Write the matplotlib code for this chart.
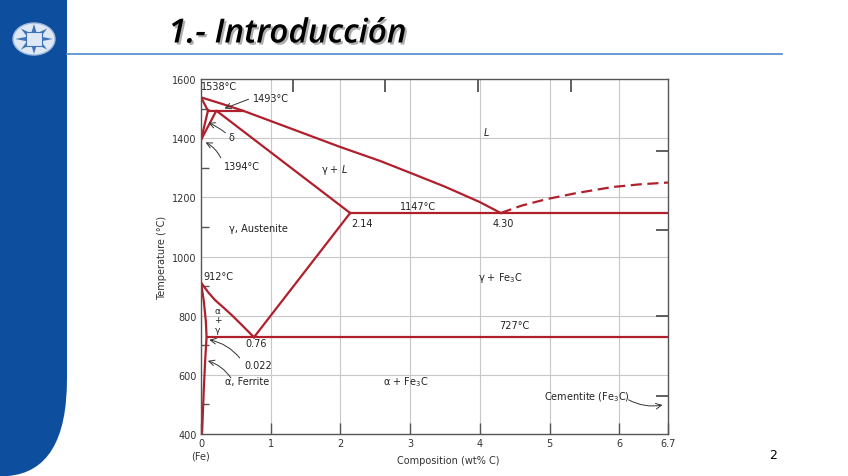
import matplotlib
matplotlib.use("Agg")
import matplotlib.pyplot as plt
import matplotlib.patheffects as pe
from matplotlib.patches import PathPatch, Ellipse, Polygon
from matplotlib.path import Path
import numpy as np

# ---------------- data ----------------
liquidus_x = [0.0, 0.3, 0.6, 1.0, 1.5, 2.0, 2.57, 3.0, 3.5, 4.0, 4.30]
liquidus_t = [1538, 1516, 1493, 1458, 1414, 1370, 1323, 1283, 1236, 1184, 1147]
liq_dash_x = [4.30, 4.6, 4.96, 5.4, 5.91, 6.3, 6.7]
liq_dash_t = [1147, 1172, 1194, 1215, 1235, 1244, 1250]
delta_x = [0.0, 0.1, 0.0]
delta_t = [1538, 1493, 1394]
peritectic_x = [0.1, 0.6]
peritectic_t = [1493, 1493]
gamma_top_x = [0.0, 0.22, 2.14]
gamma_top_t = [1394, 1493, 1147]
eutectic_x = [2.14, 6.7]
eutectic_t = [1147, 1147]
acm_x = [2.14, 0.76]
acm_t = [1147, 727]
a3_x = [0.0, 0.1, 0.2, 0.32, 0.45, 0.6, 0.76]
a3_t = [912, 880, 853, 828, 800, 765, 727]
eutectoid_x = [0.08, 6.7]
eutectoid_t = [727, 727]
alpha_x = [0.0, 0.04, 0.07, 0.08, 0.06, 0.04, 0.015]
alpha_t = [912, 850, 780, 727, 650, 550, 400]

x_ticks = [0, 1, 2, 3, 4, 5, 6, 6.7]
x_ticklabels = ["0", "1", "2", "3", "4", "5", "6", "6.7"]
y_ticks = [400, 600, 800, 1000, 1200, 1400, 1600]
y_minor = [500, 700, 900, 1100, 1300, 1500]
top_ticks = [1.32, 2.64, 3.98, 5.31]
right_ticks = [1357, 1090, 800, 530]

RED = "#b0202c"
W, H = 848, 477

fig = plt.figure(figsize=(W / 100, H / 100), dpi=100)
fig.patch.set_facecolor("white")

# ---------------- slide decoration ----------------
bg = fig.add_axes([0, 0, 1, 1])
bg.set_xlim(0, W)
bg.set_ylim(H, 0)
bg.axis("off")
verts = [(0, 0), (67, 0), (67, 380), (67, 472), (8, 477), (0, 477), (0, 0)]
codes = [Path.MOVETO, Path.LINETO, Path.LINETO, Path.CURVE3, Path.CURVE3, Path.LINETO, Path.CLOSEPOLY]
bg.add_patch(PathPatch(Path(verts, codes), facecolor="#0d4f9e", edgecolor="none"))
bg.add_patch(Ellipse((34, 40), 42, 32, facecolor="#dfe8f5", edgecolor="#9fb8dc", lw=1))
star = []
for k in range(16):
    ang = np.pi / 2 + k * np.pi / 8
    r = 15 if k % 2 == 0 else 6
    star.append((34 + r * np.cos(ang) * 1.25, 40 - r * np.sin(ang)))
bg.add_patch(Polygon(star, closed=True, facecolor="#3f74b8", edgecolor="none"))
bg.add_patch(Polygon([(26, 33), (42, 33), (42, 47), (26, 47)], facecolor="#dfe8f5", edgecolor="#3f74b8", lw=0.8))
bg.plot([67, 782], [55, 55], color="#5b93cf", lw=1.3)
bg.text(168, 35, "1.- Introducción", fontsize=24, style="italic", family="Open Sans",
        weight="semibold", color="black", va="center", ha="left",
        path_effects=[pe.withSimplePatchShadow(offset=(1.5, -1.5), shadow_rgbFace="#9a9a9a", alpha=0.8)])
bg.text(773, 456, "2", fontsize=9, ha="center", va="center", color="black")

# ---------------- main diagram ----------------
ax = fig.add_axes([201 / W, 1 - 435 / H, 467 / W, 355 / H])
ax.set_xlim(0, 6.7)
ax.set_ylim(400, 1600)

lw = 1.6
ax.plot(liquidus_x, liquidus_t, color=RED, lw=lw)
ax.plot(liq_dash_x, liq_dash_t, color=RED, lw=lw, ls=(0, (5, 2.5)))
ax.plot(delta_x, delta_t, color=RED, lw=lw)
ax.plot(peritectic_x, peritectic_t, color=RED, lw=lw)
ax.plot(gamma_top_x, gamma_top_t, color=RED, lw=lw)
ax.plot(eutectic_x, eutectic_t, color=RED, lw=lw)
ax.plot(acm_x, acm_t, color=RED, lw=lw)
ax.plot(a3_x, a3_t, color=RED, lw=lw)
ax.plot(eutectoid_x, eutectoid_t, color=RED, lw=lw)
ax.plot(alpha_x, alpha_t, color=RED, lw=lw)

# grid
for gx in [1, 2, 3, 4, 5, 6]:
    ax.axvline(gx, color="#c8c8c8", lw=0.8, zorder=0)
for gy in [600, 800, 1000, 1200, 1400]:
    ax.axhline(gy, color="#c8c8c8", lw=0.8, zorder=0)

for s in ax.spines.values():
    s.set_color("#555555")
    s.set_linewidth(1.0)

tc = "#333333"
ax.set_xticks(x_ticks)
ax.set_xticklabels(x_ticklabels)
ax.set_yticks(y_ticks)
ax.set_yticks(y_minor, minor=True)
ax.tick_params(axis="x", direction="in", length=8, width=1, color="#555555", labelsize=7, labelcolor=tc, pad=3)
ax.tick_params(axis="y", which="major", direction="in", length=0, labelsize=7, labelcolor=tc, pad=3)
ax.tick_params(axis="y", which="minor", direction="in", length=6, width=1, color="#555555")

top = ax.secondary_xaxis("top")
top.set_xticks(top_ticks)
top.tick_params(direction="in", length=9, width=1.2, color="#444444", labeltop=False)
top.spines["top"].set_visible(False)
right = ax.secondary_yaxis("right")
right.set_yticks(right_ticks)
right.tick_params(direction="in", length=9, width=1.2, color="#444444", labelright=False)
right.spines["right"].set_visible(False)

ax.set_xlabel("Composition (wt% C)", fontsize=7, color=tc, labelpad=1)
ax.xaxis.set_label_coords(0.53, -0.06)
ax.set_ylabel("Temperature (°C)", fontsize=7, color=tc, labelpad=4)
ax.text(0, -0.06, "(Fe)", transform=ax.transAxes, fontsize=7, color=tc, ha="center", va="center")

fs = 7
tk = dict(fontsize=fs, color="#222222")
ax.text(0.005, 1575, "1538°C", ha="left", va="center", **tk)
ax.text(0.75, 1535, "1493°C", ha="left", va="center", **tk)
ax.annotate("", xy=(0.3, 1497), xytext=(0.72, 1535),
            arrowprops=dict(arrowstyle="->", color="#333333", lw=0.7))
ax.text(0.43, 1405, "δ", ha="center", va="center", **tk)
ax.annotate("", xy=(0.07, 1455), xytext=(0.38, 1412),
            arrowprops=dict(arrowstyle="->", color="#333333", lw=0.7, connectionstyle="arc3,rad=0.1"))
ax.text(0.33, 1305, "1394°C", ha="left", va="center", **tk)
ax.annotate("", xy=(0.03, 1390), xytext=(0.3, 1325),
            arrowprops=dict(arrowstyle="->", color="#333333", lw=0.7, connectionstyle="arc3,rad=0.2"))
ax.text(4.1, 1424, "$L$", ha="center", va="center", **tk)
ax.text(1.92, 1296, "γ + $L$", ha="center", va="center", **tk)
ax.text(3.11, 1171, "1147°C", ha="center", va="center", **tk)
ax.text(2.31, 1113, "2.14", ha="center", va="center", **tk)
ax.text(4.33, 1113, "4.30", ha="center", va="center", **tk)
ax.text(0.82, 1096, "γ, Austenite", ha="center", va="center", **tk)
ax.text(0.04, 934, "912°C", ha="left", va="center", **tk)
ax.text(4.29, 930, "γ + Fe$_3$C", ha="center", va="center", **tk)
ax.text(0.24, 818, "α", ha="center", va="center", fontsize=6.5, color="#222222")
ax.text(0.24, 786, "+", ha="center", va="center", fontsize=6.5, color="#222222")
ax.text(0.24, 754, "γ", ha="center", va="center", fontsize=6.5, color="#222222")
ax.text(4.5, 768, "727°C", ha="center", va="center", **tk)
ax.text(0.79, 708, "0.76", ha="center", va="center", **tk)
ax.text(0.82, 633, "0.022", ha="center", va="center", **tk)
ax.annotate("", xy=(0.08, 720), xytext=(0.58, 650),
            arrowprops=dict(arrowstyle="->", color="#333333", lw=0.7, connectionstyle="arc3,rad=0.2"))
ax.text(0.66, 579, "α, Ferrite", ha="center", va="center", **tk)
ax.annotate("", xy=(0.06, 650), xytext=(0.45, 582),
            arrowprops=dict(arrowstyle="->", color="#333333", lw=0.7, connectionstyle="arc3,rad=0.2"))
ax.text(2.94, 579, "α + Fe$_3$C", ha="center", va="center", **tk)
ax.text(5.54, 528, "Cementite (Fe$_3$C)", ha="center", va="center", **tk)
ax.annotate("", xy=(6.66, 500), xytext=(6.1, 520),
            arrowprops=dict(arrowstyle="->", color="#333333", lw=0.7, connectionstyle="arc3,rad=0.2"))

fig.savefig("out.png", dpi=100)
